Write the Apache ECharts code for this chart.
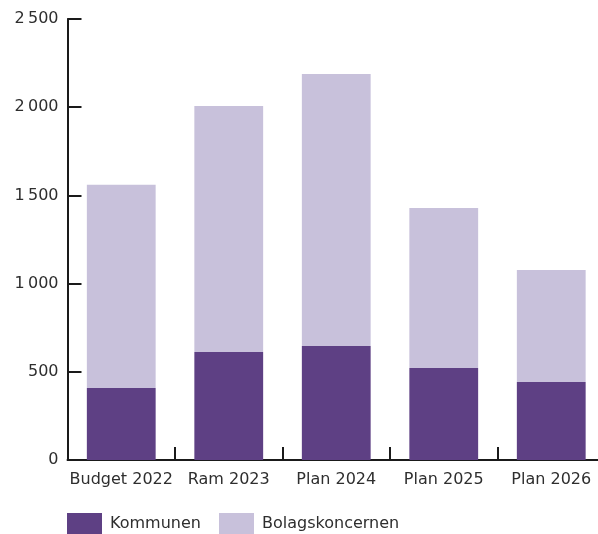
<!DOCTYPE html>
<html>
<head>
<meta charset="utf-8">
<script src="https://cdn.jsdelivr.net/npm/echarts@6/dist/echarts.min.js"></script>
<style>
html,body{margin:0;padding:0;background:#fff;overflow:hidden;}
#chart{width:620px;height:534px;}
</style>
</head>
<body>
<div id="chart"></div>
<script>
const categories = ['Budget 2022', 'Ram 2023', 'Plan 2024', 'Plan 2025', 'Plan 2026'];
const kommunen = [408, 612, 646, 522, 442];
const bolagskoncernen = [1152, 1395, 1542, 907, 635];
const yTicks = [0, 500, 1000, 1500, 2000, 2500];

const FONT = 'DejaVu Sans';
const TEXT = '#2e2e2e';
const AXIS = '#1a1a1a';
const FS = 16;

function fmt(v) {
  return String(v).replace(/\B(?=(\d{3})+(?!\d))/g, '\u2009');
}

const chart = echarts.init(document.getElementById('chart'));
chart.setOption({
  animation: false,
  textStyle: { fontFamily: FONT },
  grid: { left: 67.5, top: 19, width: 537.5, bottom: 74, containLabel: false },
  legend: [
    {
      data: ['Kommunen'], left: 67, top: 513, padding: 0, itemWidth: 35, itemHeight: 21, icon: 'rect',
      textStyle: { color: TEXT, fontSize: FS, fontFamily: FONT, padding: [2, 0, 0, 3] }
    },
    {
      data: ['Bolagskoncernen'], left: 219, top: 513, padding: 0, itemWidth: 35, itemHeight: 21, icon: 'rect',
      textStyle: { color: TEXT, fontSize: FS, fontFamily: FONT, padding: [2, 0, 0, 3] }
    }
  ],
  xAxis: {
    type: 'category',
    data: categories,
    boundaryGap: true,
    axisLine: { lineStyle: { color: AXIS, width: 2 } },
    axisTick: { show: true, inside: true, length: 13, interval: 0, lineStyle: { color: AXIS, width: 2 } },
    axisLabel: { color: TEXT, fontSize: FS, margin: 12, interval: 0, fontFamily: FONT },
    splitLine: { show: false }
  },
  yAxis: {
    type: 'value',
    min: 0, max: 2500, interval: 500,
    axisLine: { show: true, lineStyle: { color: AXIS, width: 2 } },
    axisTick: { show: true, inside: true, length: 14, lineStyle: { color: AXIS, width: 2 } },
    axisLabel: { color: TEXT, fontSize: FS, margin: 9, fontFamily: FONT, padding: [5, 0, 0, 0], formatter: v => fmt(v) },
    splitLine: { show: false }
  },
  series: [
    {
      name: 'Kommunen', type: 'bar', stack: 'total', data: kommunen,
      barCategoryGap: '36%', itemStyle: { color: '#5e4084' }
    },
    {
      name: 'Bolagskoncernen', type: 'bar', stack: 'total', data: bolagskoncernen,
      barCategoryGap: '36%', itemStyle: { color: '#c8c1db' }
    }
  ]
});
</script>
</body>
</html>
